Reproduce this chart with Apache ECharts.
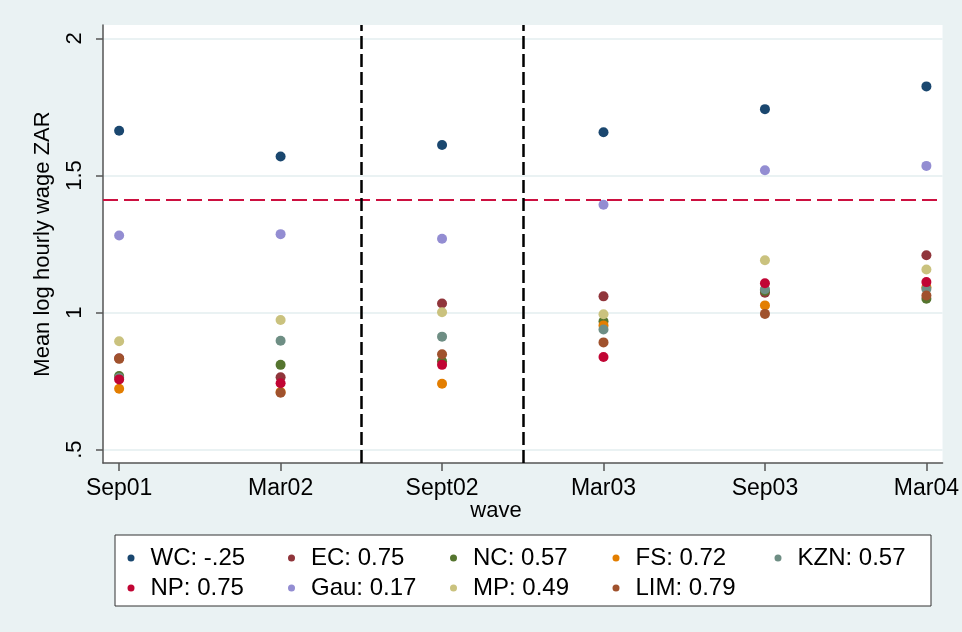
<!DOCTYPE html>
<html>
<head>
<meta charset="utf-8">
<script src="https://cdn.jsdelivr.net/npm/echarts@6/dist/echarts.min.js"></script>
<style>html,body{margin:0;padding:0;background:#eaf2f3;}#c{width:962px;height:632px;}</style>
</head>
<body>
<div id="c"></div>
<script>
// ---- data ----
const categories = ['Sep01', 'Mar02', 'Sept02', 'Mar03', 'Sep03', 'Mar04'];
const yTickValues = [0.5, 1, 1.5, 2];
const yTickLabels = ['.5', '1', '1.5', '2'];
const seriesNames = ['WC: -.25', 'EC: 0.75', 'NC: 0.57', 'FS: 0.72', 'KZN: 0.57', 'NP: 0.75', 'Gau: 0.17', 'MP: 0.49', 'LIM: 0.79'];
const WC  = [1.663, 1.569, 1.611, 1.658, 1.742, 1.825];
const EC  = [0.833, 0.764, 1.033, 1.059, 1.072, 1.209];
const NC  = [0.768, 0.809, 0.822, 0.968, 1.079, 1.050];
const FS  = [0.722, 0.710, 0.740, 0.953, 1.026, 1.092];
const KZN = [0.762, 0.897, 0.912, 0.938, 1.085, 1.086];
const NP  = [0.756, 0.742, 0.809, 0.838, 1.107, 1.111];
const Gau = [1.281, 1.286, 1.269, 1.393, 1.519, 1.535];
const MP  = [0.895, 0.973, 1.001, 0.994, 1.191, 1.157];
const LIM = [0.831, 0.707, 0.848, 0.891, 0.995, 1.062];
const referenceLine = 1.41;
const dividers = [2.5, 3.5];

const colors = ['#1a476f', '#90353b', '#55752f', '#e37e00', '#6e8e84', '#c10534', '#938dd2', '#cac27e', '#a0522d'];
const allValues = [WC, EC, NC, FS, KZN, NP, Gau, MP, LIM];

const xPos = categories.map((c, i) => i + 1);
const FONT = 'Liberation Sans, Arial, sans-serif';

const series = allValues.map((vals, k) => ({
  name: seriesNames[k],
  type: 'scatter',
  symbol: 'circle',
  symbolSize: 10,
  z: 3,
  itemStyle: { color: colors[k], opacity: 1 },
  data: vals.map((v, i) => [xPos[i], v])
}));

series.push({
  name: '_ref',
  type: 'scatter',
  data: [],
  z: 1,
  markLine: {
    silent: true,
    symbol: 'none',
    label: { show: false },
    data: [
      { yAxis: referenceLine, lineStyle: { color: '#cc1040', width: 2, type: [15, 6] } },
      ...dividers.map(d => ({ xAxis: d, lineStyle: { color: '#000', width: 2.5, type: [13, 5] } }))
    ]
  }
});

const legendCols = [[0, 5], [1, 6], [2, 7], [3, 8], [4]];
const legendLefts = [127.5, 288, 450, 612.5, 774.5];
const legends = legendCols.map((idxs, j) => ({
  orient: 'vertical',
  left: legendLefts[j],
  top: 543,
  padding: 0,
  itemGap: 0,
  itemWidth: 29,
  itemHeight: 7,
  icon: 'circle',
  selectedMode: false,
  data: idxs.map(i => seriesNames[i]),
  textStyle: { fontFamily: FONT, fontSize: 24, color: '#000', lineHeight: 30, padding: [0, 0, 0, 0] }
}));

const chart = echarts.init(document.getElementById('c'), null, { renderer: 'canvas' });
chart.setOption({
  animation: false,
  backgroundColor: '#eaf2f3',
  grid: { left: 103, right: 17, top: 25, bottom: 169, show: true, backgroundColor: '#ffffff', borderWidth: 0 },
  xAxis: {
    type: 'value', min: 0.9, max: 6.1,
    axisLine: { show: true, onZero: false, lineStyle: { color: '#555', width: 1.5 } },
    axisTick: { show: true, length: 8, customValues: xPos, lineStyle: { color: '#555', width: 1.5 } },
    axisLabel: { customValues: xPos, margin: 14, fontFamily: FONT, fontSize: 23, color: '#000',
      formatter: v => categories[Math.round(v) - 1] },
    splitLine: { show: false }
  },
  yAxis: {
    type: 'value', min: 0.451, max: 2.049,
    name: 'Mean log hourly wage ZAR', nameLocation: 'middle', nameRotate: 90, nameGap: 49,
    nameTextStyle: { fontFamily: FONT, fontSize: 22, color: '#000' },
    axisLine: { show: true, onZero: false, lineStyle: { color: '#555', width: 1.5 } },
    axisTick: { show: true, length: 7, customValues: yTickValues, lineStyle: { color: '#555', width: 1.5 } },
    axisLabel: { customValues: yTickValues, rotate: 90, margin: 17, fontFamily: FONT, fontSize: 22, color: '#000',
      formatter: v => yTickLabels[yTickValues.indexOf(v)] },
    splitLine: { show: true, lineStyle: { color: '#eaf2f3', width: 2 } }
  },
  legend: legends,
  graphic: [
    { type: 'rect', z: -1, shape: { x: 115, y: 535, width: 816, height: 71 },
      style: { fill: '#ffffff', stroke: '#333', lineWidth: 1 } },
    { type: 'text', x: 496, y: 511, style: { text: 'wave', fontFamily: FONT, fontSize: 22, fill: '#000', align: 'center', verticalAlign: 'middle' } }
  ],
  series: series
});
</script>
</body>
</html>
